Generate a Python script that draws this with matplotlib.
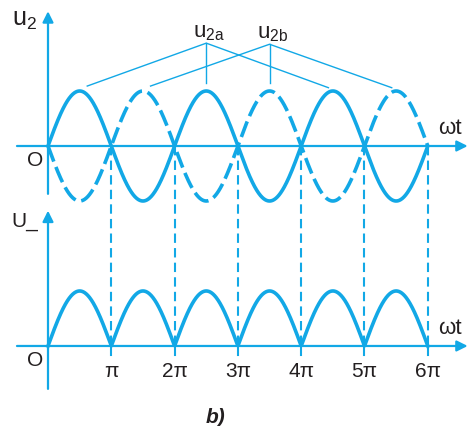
import matplotlib
matplotlib.use("Agg")
import matplotlib.pyplot as plt
import numpy as np

# data
n_half = 6                                   # half periods shown
tick_mult = [1, 2, 3, 4, 5, 6]
tick_labels = ["π", "2π", "3π", "4π", "5π", "6π"]
u2a_peaks = [0.5, 2.5, 4.5]                  # solid curve peaks (×π)
u2b_peaks = [1.5, 3.5, 5.5]                  # dashed curve peaks (×π)

C = "#12a8e6"
TXT = "#231f20"
FONT = "Liberation Sans"
plt.rcParams["font.family"] = [FONT, "DejaVu Sans"]
plt.rcParams["mathtext.fontset"] = "custom"
plt.rcParams["mathtext.rm"] = FONT
plt.rcParams["mathtext.it"] = FONT

PI = np.pi
OFF = -3.636                                  # baseline of lower graph

fig = plt.figure(figsize=(4.74, 4.27), dpi=100)
ax = fig.add_axes([0, 0, 1, 1])
ax.set_xlim(-48 / 63.3 * PI, 426 / 63.3 * PI)
ax.set_ylim(-280 / 55, 147 / 55)
ax.axis("off")

wt = np.linspace(0, n_half * PI, 1200)
u2a = np.sin(wt)
u2b = -np.sin(wt)

# upper graph
ax.plot(wt, u2a, color=C, lw=2.6, solid_capstyle="round", zorder=3)
ax.plot(wt, u2b, color=C, lw=2.6, dashes=(4.6, 1.6), zorder=3)

# lower graph: rectified voltage
ax.plot(wt, OFF + np.abs(u2a), color=C, lw=2.6, zorder=3)

arrow = dict(arrowstyle="-|>", color=C, lw=1.6, mutation_scale=16,
             shrinkA=0, shrinkB=0)
for base in (0, OFF):
    ax.annotate("", xy=(6.63 * PI, base), xytext=(-0.49 * PI, base),
                arrowprops=arrow)
ax.annotate("", xy=(0, 2.45), xytext=(0, -0.87), arrowprops=arrow)
ax.annotate("", xy=(0, OFF + 2.46), xytext=(0, OFF - 0.78), arrowprops=arrow)

# vertical dashed guides and ticks
for k, lab in zip(tick_mult, tick_labels):
    x = k * PI
    ax.plot([x, x], [0, OFF], color=C, lw=1.5, dashes=(4.5, 2.5), zorder=2)
    ax.plot([x, x], [OFF, OFF - 0.16], color=C, lw=1.5, zorder=2)
    ax.text(x, OFF - 0.45, lab, ha="center", va="center", fontsize=15,
            color=TXT)

# callout lines for u2a / u2b
for peaks, label, jy in ((u2a_peaks, r"$\mathrm{u}_{\mathrm{2a}}$", 1.87),
                         (u2b_peaks, r"$\mathrm{u}_{\mathrm{2b}}$", 1.85)):
    jx = peaks[1] * PI
    ax.plot([peaks[0] * PI + 0.12 * PI, jx, peaks[2] * PI - 0.07 * PI],
            [1.09, jy, 1.06], color=C, lw=1.0, zorder=2)
    ax.plot([jx, jx], [jy, 1.15], color=C, lw=1.0, zorder=2)
    ax.text(jx + 0.05 * PI, jy + 0.22, label, ha="center", va="center",
            fontsize=16, color=TXT)

# axis labels
ax.text(-0.37 * PI, 2.31, r"$\mathrm{u}_{\mathrm{2}}$", ha="center",
        va="center", fontsize=18, color=TXT)
ax.text(-0.37 * PI, OFF + 2.29, "U_", ha="center", va="center",
        fontsize=15, color=TXT)
for base in (0, OFF):
    ax.text(-0.21 * PI, base - 0.25, "O", ha="center", va="center",
            fontsize=15, color=TXT)
    ax.text(6.35 * PI, base + 0.33, "ωt", ha="center", va="center",
            fontsize=16, color=TXT)

ax.text(2.64 * PI, -4.91, "b)", ha="center", va="center", fontsize=15,
        fontweight="bold", fontstyle="italic", color=TXT)

fig.savefig("out.png", dpi=100)
